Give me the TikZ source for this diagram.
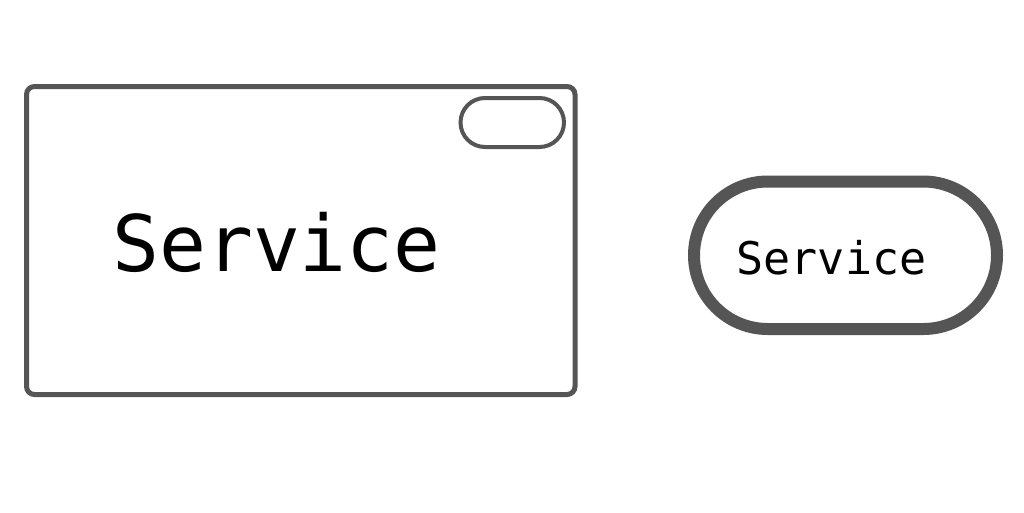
\documentclass[tikz,border=0pt]{standalone}
\usepackage{fontspec}
\newfontfamily\monofont{DejaVu Sans Mono}
\definecolor{edge}{HTML}{555555}
\tikzset{
  box/.style={draw=edge, line width=5pt, rounded corners=8pt},
  pill/.style={draw=edge, line width=4pt, rounded corners=24.5pt},
  bigpill/.style={draw=edge, line width=12pt, rounded corners=73.75pt},
  label/.style={font=\monofont, text=black, inner sep=0pt}
}
\begin{document}
\begin{tikzpicture}[x=1pt,y=-1pt]
\useasboundingbox[fill=white] (0,0) rectangle (1024,512);
% left service box
\draw[box] (26.5,86.5) rectangle (575,394.5);
% small pill in corner
\draw[pill] (460.5,98) rectangle (564,147);
\node[label, font=\monofont\fontsize{78}{80}\selectfont] (bigtext) at (276.5,242) {Service};
% right pill
\draw[bigpill] (694,181.5) rectangle (997,329);
\node[label, font=\monofont\fontsize{45}{47}\selectfont] (smalltext) at (831.5,258) {Service};
\end{tikzpicture}
\end{document}
